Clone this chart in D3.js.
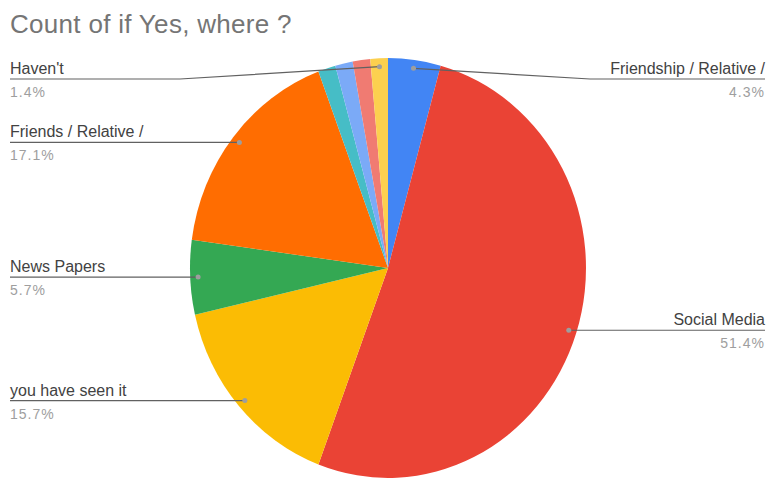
<!DOCTYPE html>
<html>
<head>
<meta charset="utf-8">
<script src="https://cdn.jsdelivr.net/npm/d3@7"></script>
<style>
  body { margin: 0; background: #fff; }
  text { font-family: Arial, "Liberation Sans", sans-serif; }
</style>
</head>
<body>
<svg></svg>
<script>
const categories = ['Friendship / Relative /', 'Social Media', 'you have seen it', 'News Papers',
  'Friends / Relative /', 'Other 1', 'Other 2', 'Other 3', "Haven't"];
const counts = [3, 36, 11, 4, 12, 1, 1, 1, 1];
const colors = ['#4285f4', '#ea4335', '#fbbc04', '#34a853', '#ff6d01', '#46bdc6', '#7baaf7', '#f07b72', '#fcd04f'];
const labelled = ['Friendship / Relative /', 'Social Media', 'you have seen it', 'News Papers',
  'Friends / Relative /', "Haven't"];

const width = 771;
const height = 481;
const cx = 388, cy = 268;
const R = 198;
const sy = 1.06;

const svg = d3.select('svg')
    .attr('width', width)
    .attr('height', height);

svg.append('text')
    .attr('x', 10)
    .attr('y', 33)
    .attr('font-size', 26)
    .attr('letter-spacing', 0.3)
    .attr('fill', '#757575')
    .text('Count of if Yes, where ?');

const data = categories.map((c, i) => ({ name: c, value: counts[i], color: colors[i] }));
const total = d3.sum(counts);

const pie = d3.pie().value(d => d.value).sort(null);
const arcs = pie(data);
const arc = d3.arc().innerRadius(0).outerRadius(R);

const g = svg.append('g')
    .attr('transform', `translate(${cx},${cy}) scale(1,${sy})`);

g.selectAll('path')
    .data(arcs)
    .enter().append('path')
    .attr('d', arc)
    .attr('fill', d => d.data.color);

// labels
const labels = svg.append('g');
arcs.filter(d => labelled.includes(d.data.name)).forEach(d => {
    const mid = (d.startAngle + d.endAngle) / 2;
    const r = R * 0.96;
    const dx = cx + Math.sin(mid) * r;
    const dy = cy - Math.cos(mid) * r * sy;
    const right = Math.sin(mid) > 0;
    const ly = Math.max(dy, 79);
    const elbowX = right ? cx + R + 4 : cx - R - 10;
    const endX = right ? 765 : 10;

    labels.append('polyline')
        .attr('points', `${dx},${dy} ${elbowX},${ly} ${endX},${ly}`)
        .attr('fill', 'none')
        .attr('stroke', '#616161')
        .attr('stroke-width', 1.2);

    labels.append('circle')
        .attr('cx', dx)
        .attr('cy', dy)
        .attr('r', 2.5)
        .attr('fill', '#9e9e9e');

    labels.append('text')
        .attr('x', endX)
        .attr('y', ly - 5)
        .attr('text-anchor', right ? 'end' : 'start')
        .attr('font-size', 16)
        .attr('fill', '#424242')
        .text(d.data.name);

    labels.append('text')
        .attr('x', endX)
        .attr('y', ly + 18)
        .attr('text-anchor', right ? 'end' : 'start')
        .attr('font-size', 14)
        .attr('letter-spacing', 1)
        .attr('fill', '#9e9e9e')
        .text(d3.format('.1%')(d.data.value / total));
});
</script>
</body>
</html>
